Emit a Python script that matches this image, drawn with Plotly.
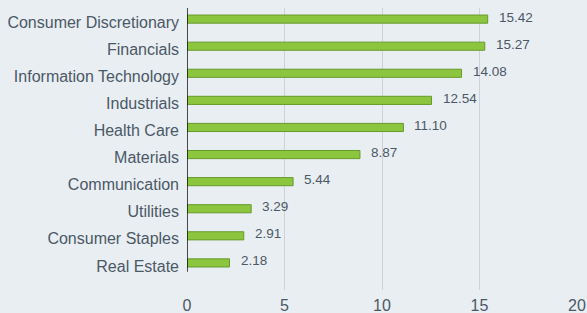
import plotly.graph_objects as go

categories = ["Real Estate", "Consumer Staples", "Utilities", "Communication", "Materials",
              "Health Care", "Industrials", "Information Technology", "Financials",
              "Consumer Discretionary"]
values = [2.18, 2.91, 3.29, 5.44, 8.87, 11.10, 12.54, 14.08, 15.27, 15.42]
labels = [f"{v:.2f}" for v in values]
x_ticks = [0, 5, 10, 15, 20]

BG = "#e9eef2"
TXT = "#4b5866"

fig = go.Figure()
fig.add_trace(go.Bar(
    x=values, y=categories, orientation="h", width=0.3,
    marker=dict(color="#8cc63f", line=dict(color="#679a2b", width=1)),
    hoverinfo="skip",
))
for c, v, t in zip(categories, values, labels):
    fig.add_annotation(x=v, y=c, text=t, showarrow=False, xanchor="left",
                       xshift=9, yshift=2,
                       font=dict(family="Liberation Sans, Arial", size=13.5, color=TXT))

fig.add_shape(type="line", xref="x", yref="y", x0=0, x1=0, y0=-0.33, y1=9.42,
              line=dict(color="#111111", width=1.5))

fig.update_layout(
    width=587, height=313,
    margin=dict(l=187, r=10, t=8, b=23, autoexpand=False),
    paper_bgcolor=BG, plot_bgcolor=BG,
    showlegend=False,
    font=dict(family="Liberation Sans, Arial", size=16, color=TXT),
    xaxis=dict(range=[0, 20], tickvals=x_ticks, showgrid=True, gridcolor="#cdd2d6",
               gridwidth=1.2, zeroline=False, showline=False, ticks="",
               ticklabelstandoff=4, automargin=False, tickfont=dict(size=16, color=TXT)),
    yaxis=dict(type="category", categoryorder="array", categoryarray=categories,
               range=[-1.0, 9.41], showgrid=False, zeroline=False, showline=False,
               ticks="", ticklabelstandoff=7, ticklabelshift=3, automargin=False,
               tickfont=dict(size=16, color=TXT)),
)

fig.write_html("out.html", config={"displayModeBar": False},
               post_script="document.body.style.margin='0';document.body.style.background='#e9eef2';")
